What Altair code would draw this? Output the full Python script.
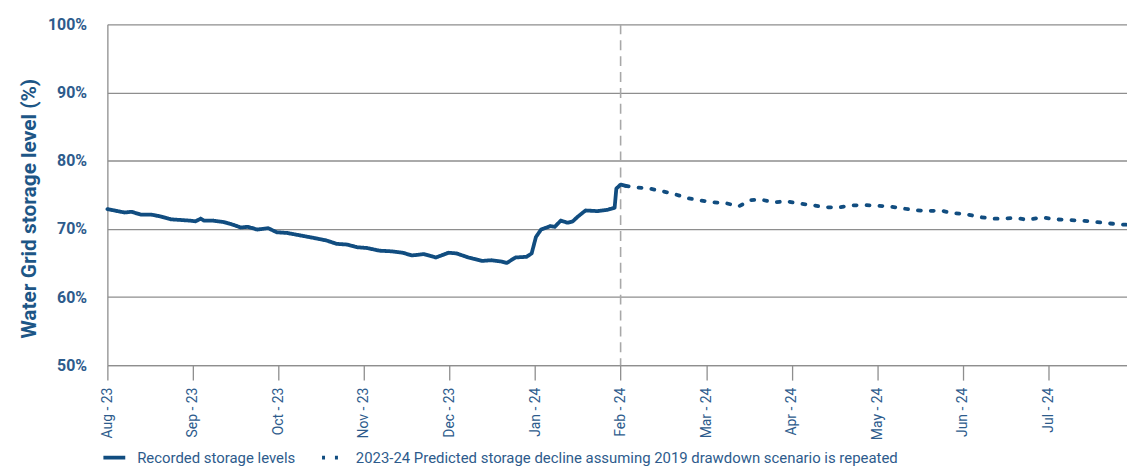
import altair as alt
import pandas as pd

month_labels = ["Aug - 23", "Sep - 23", "Oct - 23", "Nov - 23", "Dec - 23", "Jan - 24",
                "Feb - 24", "Mar - 24", "Apr - 24", "May - 24", "Jun - 24", "Jul - 24"]

series_names = ["Recorded storage levels",
                "2023-24 Predicted storage decline assuming 2019 drawdown scenario is repeated"]

# month index (0 = Aug-23) and storage level (%)
recorded_x = [0.0, 0.08, 0.20, 0.28, 0.39, 0.51, 0.63, 0.74, 0.86, 0.97, 1.03, 1.09, 1.13, 1.24,
              1.36, 1.47, 1.56, 1.64, 1.75, 1.88, 1.98, 2.10, 2.25, 2.40, 2.56, 2.68, 2.80, 2.92,
              3.03, 3.18, 3.33, 3.45, 3.56, 3.70, 3.84, 3.99, 4.08, 4.22, 4.38, 4.49, 4.61, 4.67,
              4.77, 4.90, 4.96, 5.01, 5.07, 5.18, 5.23, 5.30, 5.38, 5.44, 5.50, 5.59, 5.73, 5.85,
              5.93, 5.95, 6.00, 6.06]
recorded_y = [72.9, 72.7, 72.4, 72.5, 72.1, 72.1, 71.8, 71.4, 71.3, 71.2, 71.1, 71.5, 71.2, 71.2,
              71.0, 70.6, 70.2, 70.3, 69.9, 70.1, 69.5, 69.4, 69.05, 68.7, 68.3, 67.8, 67.7, 67.3,
              67.2, 66.8, 66.7, 66.5, 66.1, 66.3, 65.8, 66.5, 66.4, 65.8, 65.3, 65.4, 65.2, 65.0,
              65.8, 65.9, 66.4, 68.8, 69.9, 70.4, 70.3, 71.2, 70.9, 71.1, 71.8, 72.7, 72.6, 72.8,
              73.1, 75.9, 76.5, 76.3]

predicted_x = [6.06, 6.17, 6.32, 6.46, 6.63, 6.78, 6.92, 7.08, 7.22, 7.38, 7.52, 7.64, 7.79, 7.93,
               8.07, 8.23, 8.37, 8.53, 8.67, 8.82, 8.98, 9.14, 9.27, 9.41, 9.57, 9.74, 9.88, 10.02,
               10.17, 10.33, 10.47, 10.62, 10.76, 10.92, 11.08, 11.23, 11.40, 11.56, 11.71, 11.85,
               11.92]
predicted_y = [76.3, 76.1, 75.95, 75.6, 75.1, 74.5, 74.2, 73.9, 73.8, 73.3, 74.2, 74.3, 73.9, 74.05,
               73.75, 73.5, 73.2, 73.1, 73.4, 73.5, 73.4, 73.3, 73.05, 72.8, 72.6, 72.7, 72.3, 72.2,
               71.8, 71.5, 71.5, 71.6, 71.3, 71.7, 71.4, 71.3, 71.2, 71.0, 70.8, 70.65, 70.6]

forecast_start = [6.0]
y_ticks = [50, 60, 70, 80, 90, 100]

df = pd.concat([
    pd.DataFrame({"m": recorded_x, "v": recorded_y, "s": series_names[0]}),
    pd.DataFrame({"m": predicted_x, "v": predicted_y, "s": series_names[1]}),
])

BLUE = "#114d80"
LABEL = "#2d5b8c"
GRID = "#8e8e8e"

label_expr = "[" + ",".join("'" + l + "'" for l in month_labels) + "][datum.value]"

x_enc = alt.X("m:Q",
              scale=alt.Scale(domain=[0, 11.92], nice=False, zero=False),
              axis=alt.Axis(values=list(range(len(month_labels))), labelExpr=label_expr,
                            labelAngle=-90, labelAlign="right", labelBaseline="middle",
                            labelColor=LABEL, labelFontSize=14, labelPadding=7,
                            tickSize=15, tickColor=GRID, tickWidth=1.3,
                            domainColor=GRID, domainWidth=1.3, grid=False, title=None))

y_enc = alt.Y("v:Q",
              scale=alt.Scale(domain=[50, 100], nice=False, zero=False),
              axis=alt.Axis(values=y_ticks, labelExpr="datum.value + '%'",
                            labelColor=LABEL, labelFontSize=16, labelFontWeight="bold",
                            labelPadding=21, ticks=False,
                            domainColor=GRID, domainWidth=1.3,
                            grid=True, gridColor=GRID, gridWidth=1.3,
                            title="Water Grid storage level (%)", titleColor="#1d5686",
                            titleFontSize=21, titleFontWeight="bold", titlePadding=8,
                            titleY=185))

legend_kw = dict(title=None, orient="none", legendX=-6, legendY=423,
                 direction="horizontal", symbolType="stroke",
                 symbolSize=484, symbolStrokeWidth=3.8,
                 labelFontSize=15, labelColor=LABEL, labelLimit=900,
                 columnPadding=18, labelOffset=10)

lines = alt.Chart(df).mark_line(strokeWidth=3.8, strokeCap="round", strokeJoin="round").encode(
    x=x_enc,
    y=y_enc,
    color=alt.Color("s:N", scale=alt.Scale(domain=series_names, range=[BLUE, BLUE]),
                    legend=alt.Legend(**legend_kw)),
    strokeDash=alt.StrokeDash("s:N", scale=alt.Scale(domain=series_names, range=[[1, 0], [3, 10]]),
                              legend=alt.Legend(**legend_kw)),
    order=alt.Order("m:Q"),
)

rule = alt.Chart(pd.DataFrame({"m": forecast_start})).mark_rule(
    color="#a8a8a8", strokeWidth=1.6, strokeDash=[10, 6]).encode(x=alt.X("m:Q"))

chart = alt.layer(rule, lines).properties(
    width=1026, height=343,
    padding={"left": 100, "top": 15, "right": 0, "bottom": 104},
    autosize=alt.AutoSizeParams(type="none"),
).configure(font="Roboto").configure_view(stroke=None)

chart.save("out.html", embed_options={"renderer": "svg", "actions": False})
